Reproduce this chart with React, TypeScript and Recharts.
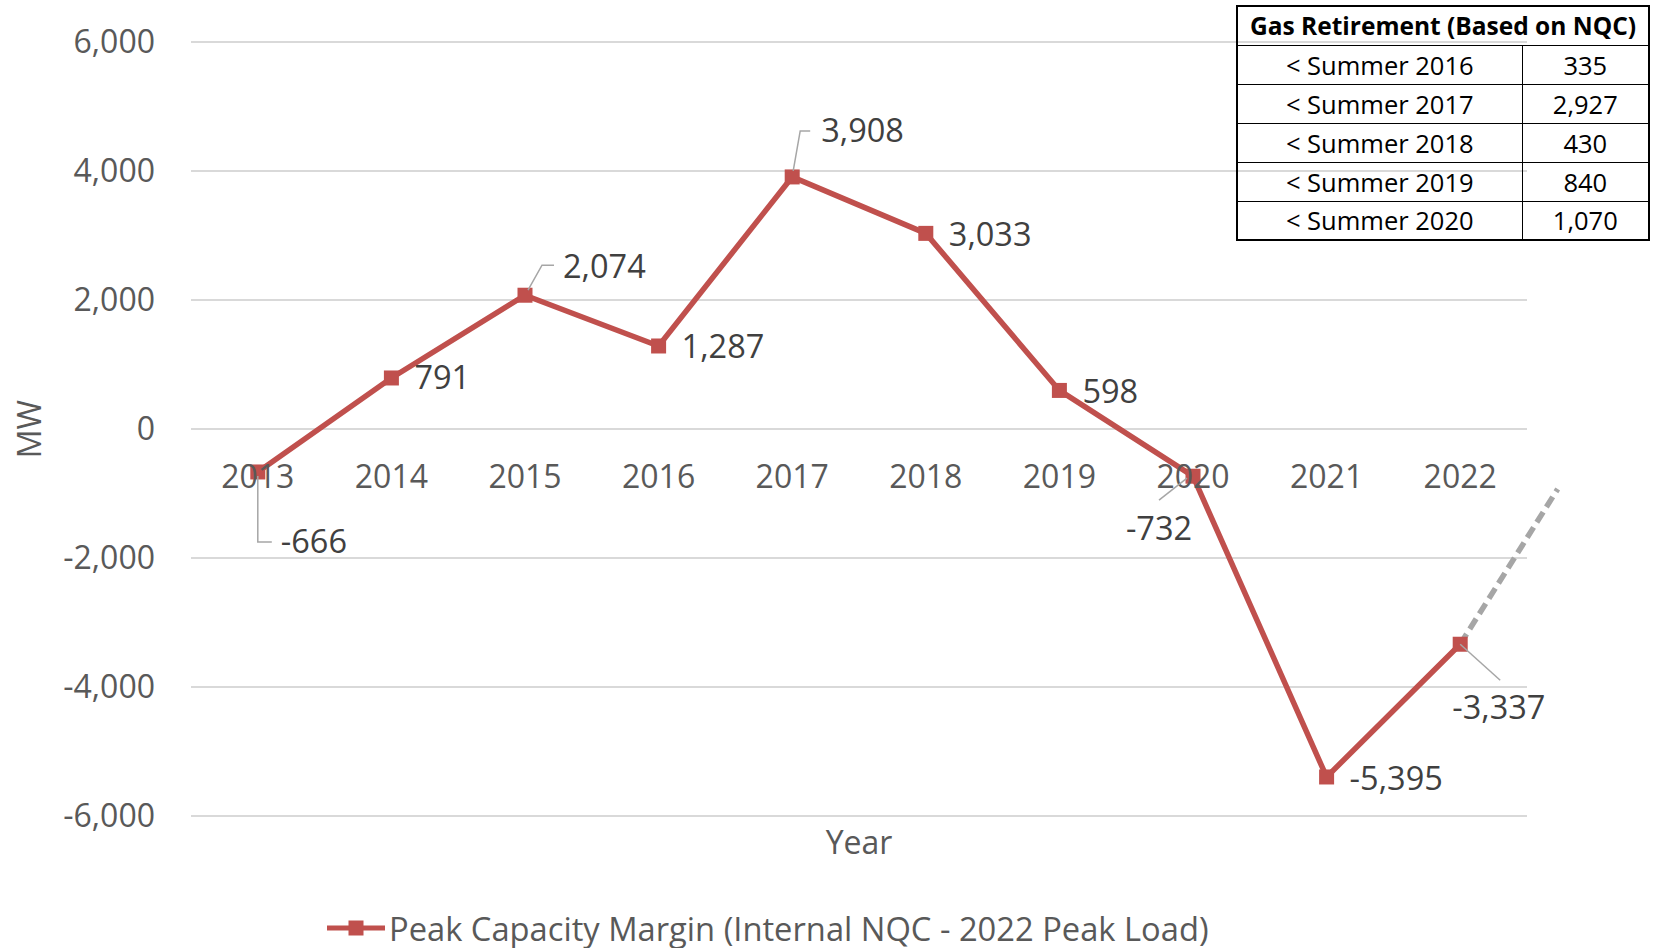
import { LineChart, Line, XAxis, YAxis, CartesianGrid, ReferenceLine, LabelList, Label } from 'recharts';

// 연도별 피크 용량 마진 (MW)
const YEARS = [2013, 2014, 2015, 2016, 2017, 2018, 2019, 2020, 2021, 2022];
const MARGIN_MW = [-666, 791, 2074, 1287, 3908, 3033, 598, -732, -5395, -3337];

// 2022 이후 점선 추세
const PROJECTION_YEARS = [2022, 2022.73];
const PROJECTION_MW = [-3337, -930];

const Y_TICKS = [-6000, -4000, -2000, 0, 2000, 4000, 6000];

// 가스 발전 폐지 표
const RETIRE_PERIODS = ['< Summer 2016', '< Summer 2017', '< Summer 2018', '< Summer 2019', '< Summer 2020'];
const RETIRE_MW = [335, 2927, 430, 840, 1070];

const W = 1657;
const H = 948;
const PLOT_TOP = 42;
const PLOT_BOTTOM = 816;
const Y_MIN = -6000;
const Y_MAX = 6000;
const ZERO_Y = PLOT_TOP + ((PLOT_BOTTOM - PLOT_TOP) * Y_MAX) / (Y_MAX - Y_MIN);

const RED = '#C0504D';
const AXIS_TEXT = '#595959';
const LABEL_TEXT = '#404040';
const LEADER = '#A6A6A6';
const FONT = "'Open Sans', sans-serif";

// 데이터 라벨 배치 (점 기준 오프셋)
type LabelLayout = { dx: number; dy: number; anchor?: 'start' | 'middle' | 'end'; leader?: number[][] };
const LABEL_LAYOUT: LabelLayout[] = [
  { dx: 23, dy: 70, leader: [[0, 4], [0, 70], [14, 70]] },
  { dx: 23, dy: 0 },
  { dx: 38, dy: -29, leader: [[3, -5], [17, -30], [29, -30]] },
  { dx: 23, dy: 1 },
  { dx: 29, dy: -46, leader: [[1, -6], [8, -46], [18, -46]] },
  { dx: 23, dy: 1 },
  { dx: 23, dy: 1 },
  { dx: -34, dy: 52, anchor: 'middle', leader: [[-6, 2], [-34, 24]] },
  { dx: 23, dy: 2 },
  { dx: -8, dy: 63, leader: [[0, 0], [40, 36]] },
];

const data = YEARS.map((year, i) => ({ year, margin: MARGIN_MW[i] }));

const fmt = (v: number) => v.toLocaleString('en-US');

const renderSquare = (p: any) => (
  <rect key={`dot-${p.index}`} x={p.cx - 7.5} y={p.cy - 7.5} width={15} height={15} fill={RED} />
);

const renderValueLabel = (p: any) => {
  const layout = LABEL_LAYOUT[p.index];
  if (!layout) return null;
  const x = Number(p.x);
  const y = Number(p.y);
  return (
    <g key={`lbl-${p.index}`}>
      {layout.leader && (
        <polyline
          points={layout.leader.map(([dx, dy]) => `${x + dx},${y + dy}`).join(' ')}
          fill="none"
          stroke={LEADER}
          strokeWidth={1.5}
        />
      )}
      <text
        x={x + layout.dx}
        y={y + layout.dy}
        dy="0.35em"
        textAnchor={layout.anchor || 'start'}
        fontSize={32.5}
        fill={LABEL_TEXT}
        fontFamily={FONT}
      >
        {fmt(Number(p.value))}
      </text>
    </g>
  );
};

const renderYearTick = (p: any) => (
  <text
    key={`tick-${p.index}`}
    x={p.x}
    y={ZERO_Y + 48}
    dy="0.35em"
    textAnchor="middle"
    fontSize={32}
    fill={AXIS_TEXT}
    fontFamily={FONT}
  >
    {p.payload.value}
  </text>
);

export default function App() {
  return (
    <div style={{ position: 'absolute', left: 0, top: 0, width: W, height: H, background: '#fff', fontFamily: FONT }}>
      <LineChart width={W} height={H} data={data} margin={{ top: PLOT_TOP, right: 130, bottom: 0, left: 0 }}>
        <CartesianGrid vertical={false} stroke="#D9D9D9" strokeWidth={2} />
        <XAxis
          dataKey="year"
          type="number"
          domain={[2012.5, 2022.5]}
          ticks={YEARS}
          height={H - PLOT_BOTTOM}
          axisLine={false}
          tickLine={false}
          tick={renderYearTick}
          interval={0}
        >
          <Label
            content={(props: any) => {
              const vb = props.viewBox || {};
              return (
                <text
                  x={vb.x + vb.width / 2}
                  y={vb.y + 27}
                  dy="0.35em"
                  textAnchor="middle"
                  fontSize={32}
                  fill={AXIS_TEXT}
                  fontFamily={FONT}
                >
                  Year
                </text>
              );
            }}
          />
        </XAxis>
        <YAxis
          type="number"
          domain={[Y_MIN, Y_MAX]}
          ticks={Y_TICKS}
          width={191}
          axisLine={false}
          tickLine={false}
          tickSize={6}
          tickMargin={30}
          tickFormatter={fmt}
          tick={{ fontSize: 32, fill: AXIS_TEXT, fontFamily: FONT }}
        >
          <Label
            content={(props: any) => {
              const vb = props.viewBox || {};
              const cx = vb.x + 30;
              const cy = vb.y + vb.height / 2;
              return (
                <text
                  x={cx}
                  y={cy}
                  dy="0.35em"
                  textAnchor="middle"
                  fontSize={32}
                  fill={AXIS_TEXT}
                  fontFamily={FONT}
                  transform={`rotate(-90 ${cx} ${cy})`}
                >
                  MW
                </text>
              );
            }}
          />
        </YAxis>
        <ReferenceLine
          segment={PROJECTION_YEARS.map((x, i) => ({ x, y: PROJECTION_MW[i] }))}
          stroke={LEADER}
          strokeWidth={5.5}
          strokeDasharray="12 6"
          ifOverflow="visible"
        />
        <Line
          dataKey="margin"
          stroke={RED}
          strokeWidth={5.5}
          dot={renderSquare}
          activeDot={false}
          isAnimationActive={false}
        >
          <LabelList dataKey="margin" content={renderValueLabel} />
        </Line>
      </LineChart>

      {/* 가스 폐지 표 */}
      <table
        style={{
          position: 'absolute',
          left: 1236,
          top: 5,
          width: 412,
          height: 234,
          borderCollapse: 'collapse',
          tableLayout: 'fixed',
          border: '2px solid #000',
          fontFamily: FONT,
          color: '#000',
          background: 'transparent',
        }}
      >
        <colgroup>
          <col style={{ width: 285 }} />
          <col style={{ width: 127 }} />
        </colgroup>
        <tbody>
          <tr style={{ height: 39 }}>
            <td colSpan={2} style={{ textAlign: 'center', fontWeight: 700, fontSize: 24.5, padding: 0, border: '1.5px solid #000', whiteSpace: 'nowrap' }}>
              Gas Retirement (Based on NQC)
            </td>
          </tr>
          {RETIRE_PERIODS.map((period, i) => (
            <tr key={period} style={{ height: 39 }}>
              <td style={{ textAlign: 'center', fontSize: 25.5, padding: 0, border: '1.5px solid #000' }}>{period}</td>
              <td style={{ textAlign: 'center', fontSize: 25.5, padding: 0, border: '1.5px solid #000' }}>{fmt(RETIRE_MW[i])}</td>
            </tr>
          ))}
        </tbody>
      </table>

      {/* 범례 */}
      <div style={{ position: 'absolute', left: 327, top: 906, height: 44, display: 'flex', alignItems: 'center' }}>
        <svg width={60} height={20}>
          <line x1={0} y1={10} x2={58} y2={10} stroke={RED} strokeWidth={5} />
          <rect x={21.5} y={2.5} width={15} height={15} fill={RED} />
        </svg>
        <span style={{ fontSize: 32.7, color: AXIS_TEXT, whiteSpace: 'nowrap', marginLeft: 2 }}>
          Peak Capacity Margin (Internal NQC - 2022 Peak Load)
        </span>
      </div>
    </div>
  );
}
